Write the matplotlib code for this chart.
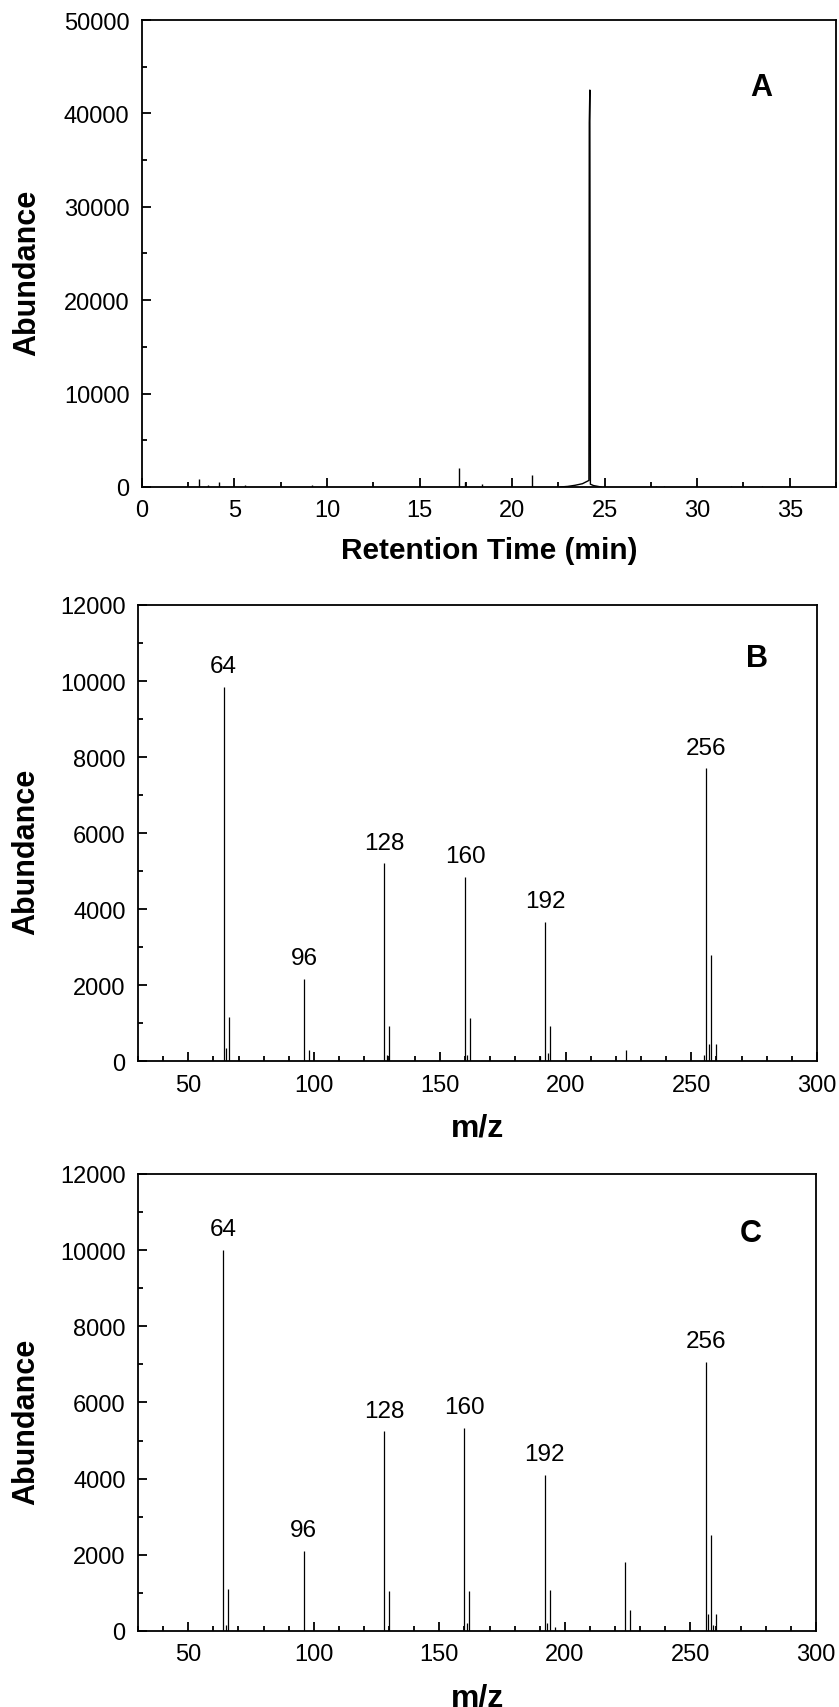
import matplotlib
matplotlib.use("Agg")
import matplotlib.pyplot as plt
from matplotlib.ticker import MultipleLocator

plt.rcParams["font.family"] = ["Liberation Sans", "DejaVu Sans"]

# panel A: chromatogram, small peaks (min, abundance)
a_peak_time = [3.06, 3.55, 4.18, 5.57, 9.2, 17.15, 17.45, 18.4, 21.06, 27.8, 28.2, 31.85, 33.5]
a_peak_abund = [820, 170, 570, 170, 170, 2070, 500, 280, 1250, 120, 100, 100, 150]
# main peak with the rising hump in front of it
a_main_time = [22.6, 23.0, 23.4, 23.8, 24.05, 24.15, 24.17, 24.2, 24.23, 24.4, 24.8]
a_main_abund = [0, 60, 180, 350, 600, 700, 39000, 42500, 300, 150, 0]

# panel B: mass spectrum
b_mz = [64, 65, 66, 96, 98, 128, 129, 130, 160, 161, 162, 190, 192, 193, 194,
        224, 255, 256, 257, 258, 260]
b_abund = [9850, 330, 1160, 2170, 300, 5200, 150, 930, 4850, 150, 1120, 130, 3660, 200, 910,
           300, 150, 7700, 450, 2780, 450]
b_labels = [64, 96, 128, 160, 192, 256]

# panel C: mass spectrum
c_mz = [64, 65, 66, 96, 128, 130, 160, 161, 162, 192, 193, 194, 196,
        224, 226, 256, 257, 258, 259, 260]
c_abund = [10000, 150, 1100, 2110, 5240, 1050, 5340, 200, 1050, 4100, 200, 1080, 100,
           1820, 550, 7060, 450, 2520, 150, 450]
c_labels = [64, 96, 128, 160, 192, 256]

fig = plt.figure(figsize=(8.39, 17.08), dpi=100)
ax_a = fig.add_axes([0.1692, 0.7143, 0.8272, 0.2734])
ax_b = fig.add_axes([0.1645, 0.3782, 0.8093, 0.2670])
ax_c = fig.add_axes([0.1645, 0.0445, 0.8081, 0.2676])


def style(ax, xmaj, xmin, ymaj, ymin):
    ax.xaxis.set_major_locator(MultipleLocator(xmaj))
    ax.xaxis.set_minor_locator(MultipleLocator(xmin))
    ax.yaxis.set_major_locator(MultipleLocator(ymaj))
    ax.yaxis.set_minor_locator(MultipleLocator(ymin))
    ax.tick_params(which="both", direction="in", top=False, right=False, width=1.3)
    ax.tick_params(which="major", length=6.5, labelsize=17, pad=9)
    ax.tick_params(which="minor", length=3.6)
    for s in ax.spines.values():
        s.set_linewidth(1.3)
    ax.set_ylabel("Abundance", fontsize=22, fontweight="bold")
    ax.yaxis.set_label_coords(-0.143, 0.46)


# A
ax_a.vlines(a_peak_time, 0, a_peak_abund, color="black", lw=1.0)
ax_a.plot(a_main_time, a_main_abund, color="black", lw=1.0)
ax_a.set_xlim(0, 37.5)
ax_a.set_ylim(0, 50000)
style(ax_a, 5, 2.5, 10000, 5000)
ax_a.set_xlabel("Retention Time (min)", fontsize=21.5, fontweight="bold")
ax_a.xaxis.set_label_coords(0.5, -0.105)
ax_a.text(0.892, 0.857, "A", transform=ax_a.transAxes, fontsize=22,
          fontweight="bold", ha="center", va="center")

# B and C
for ax, mz, ab, labs, letter, ly in [(ax_b, b_mz, b_abund, b_labels, "B", 0.884),
                                     (ax_c, c_mz, c_abund, c_labels, "C", 0.870)]:
    ax.vlines(mz, 0, ab, color="black", lw=0.9)
    for m in labs:
        ax.annotate(str(m), (m, ab[mz.index(m)]), xytext=(0, 15),
                    textcoords="offset points", ha="center", va="center", fontsize=17.5)
    ax.set_xlim(30, 300)
    ax.set_ylim(0, 12000)
    style(ax, 50, 10, 2000, 1000)
    ax.set_xlabel("m/z", fontsize=23, fontweight="bold")
    ax.xaxis.set_label_coords(0.5, -0.113)
    ax.text(0.912 if letter == "B" else 0.904, ly, letter, transform=ax.transAxes,
            fontsize=22, fontweight="bold", ha="center", va="center")

fig.savefig("out.png", dpi=100)
